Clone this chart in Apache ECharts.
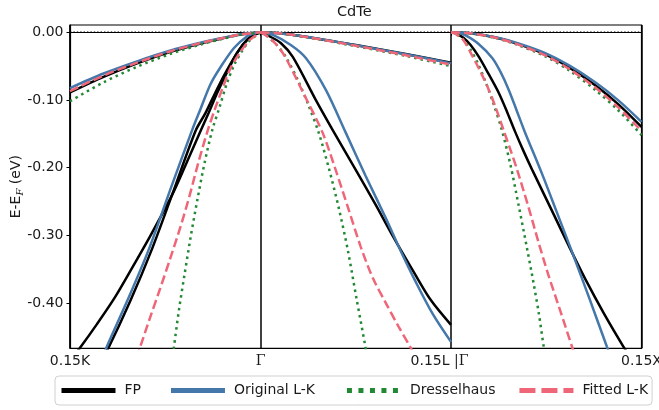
<!DOCTYPE html>
<html><head><meta charset="utf-8">
<script src="https://cdn.jsdelivr.net/npm/echarts@6/dist/echarts.min.js"></script>
<style>html,body{margin:0;padding:0;background:#fff}#c{width:659px;height:410px}</style>
</head><body><div id="c"></div>
<script>
// ---- tick labels ----
const xTickLabels = ['0.15K', 'Γ', '0.15L |Γ', '0.15X'];
const yTicks = [-0.4, -0.3, -0.2, -0.1, 0.0];
const modelNames = ['FP', 'Original L-K', 'Dresselhaus', 'Fitted L-K'];

// ---- band data: [t, E-EF (eV)], t = distance from Γ as fraction of the panel ----
// Γ -> 0.15K panel
const FP_K_flat  = [[0,0],[0.104,-0.0035],[0.209,-0.0095],[0.3,-0.0155],[0.472,-0.029],[0.648,-0.046],[0.824,-0.066],[1,-0.089]];
const LK_K_flat  = [[0,0],[0.104,-0.003],[0.209,-0.009],[0.3,-0.0145],[0.472,-0.027],[0.648,-0.043],[0.824,-0.061],[1,-0.0825]];
const DR_K_flat  = [[0,0],[0.104,-0.0035],[0.209,-0.0105],[0.3,-0.017],[0.472,-0.032],[0.648,-0.051],[0.824,-0.074],[1,-0.102]];
const FIT_K_flat = [[0,0],[0.104,-0.0033],[0.209,-0.0093],[0.3,-0.015],[0.472,-0.028],[0.648,-0.045],[0.824,-0.064],[1,-0.087]];
const FP_K_steep1 = [[0,0],[0.030,-0.0032],[0.0669,-0.0099],[0.1197,-0.0291],[0.1724,-0.0571],[0.2251,-0.0882],[0.2725,-0.1192],[0.3147,-0.1458],[0.3885,-0.1931],[0.4639,-0.2403],[0.5783,-0.3009],[0.6679,-0.3452],[0.7628,-0.391],[0.8577,-0.4309],[0.9473,-0.4663],[1,-0.4855]];
const FP_K_steep2 = [[0,0],[0.030,-0.0032],[0.0669,-0.0106],[0.1197,-0.0291],[0.1724,-0.0542],[0.2251,-0.0823],[0.2884,-0.1192],[0.3411,-0.1458],[0.4623,-0.2388],[0.5693,-0.3201],[0.6831,-0.3969],[0.7991,-0.4668],[0.842,-0.487]];
const LK_K_steep  = [[0,0],[0.0353,-0.0018],[0.0685,-0.0055],[0.1392,-0.0232],[0.2093,-0.0513],[0.262,-0.0764],[0.3147,-0.1133],[0.3585,-0.1443],[0.4702,-0.23],[0.5872,-0.3216],[0.6995,-0.3969],[0.8102,-0.4668],[0.842,-0.49]];
const DR_K_steep  = [[0,0],[0.0195,-0.004],[0.0564,-0.0121],[0.0933,-0.0261],[0.1355,-0.0468],[0.1776,-0.0764],[0.2145,-0.1104],[0.253,-0.1443],[0.2936,-0.1931],[0.3305,-0.2462],[0.3674,-0.3038],[0.3991,-0.3585],[0.428,-0.4102],[0.4555,-0.4668],[0.4676,-0.487]];
const FIT_K_steep = [[0,0],[0.0248,-0.0047],[0.0617,-0.0129],[0.1038,-0.0284],[0.1566,-0.0527],[0.1987,-0.0823],[0.2409,-0.1148],[0.2778,-0.1458],[0.3253,-0.1916],[0.3727,-0.2418],[0.4202,-0.2876],[0.4729,-0.3334],[0.5256,-0.3777],[0.5783,-0.4205],[0.631,-0.4644],[0.652,-0.481]];
// Γ -> 0.15L panel
const FP_L_flat  = [[0,0],[0.1,-0.0015],[0.238,-0.0065],[0.5,-0.019],[0.762,-0.032],[1,-0.045]];
const LK_L_flat  = [[0,0],[0.1,-0.0015],[0.238,-0.0066],[0.5,-0.0192],[0.762,-0.0325],[1,-0.046]];
const DR_L_flat  = [[0,0],[0.1,-0.0016],[0.238,-0.0072],[0.5,-0.0205],[0.762,-0.035],[1,-0.050]];
const FIT_L_flat = [[0,0],[0.1,-0.0016],[0.238,-0.007],[0.5,-0.02],[0.762,-0.034],[1,-0.048]];
const FP_L_steep  = [[0,0],[0.0435,-0.0055],[0.1065,-0.0158],[0.1695,-0.0365],[0.29,-0.1],[0.3814,-0.1458],[0.5,-0.2034],[0.605,-0.2551],[0.694,-0.3009],[0.804,-0.3541],[0.893,-0.3954],[1,-0.4324]];
const LK_L_steep  = [[0,0],[0.0645,-0.004],[0.159,-0.0188],[0.238,-0.038],[0.343,-0.0852],[0.448,-0.1487],[0.552,-0.2123],[0.657,-0.2743],[0.736,-0.3231],[0.815,-0.3689],[0.904,-0.4162],[1,-0.4575]];
const DR_L_steep  = [[0,0],[0.0278,-0.004],[0.0803,-0.0173],[0.1327,-0.0365],[0.1957,-0.0705],[0.2534,-0.1089],[0.3059,-0.1487],[0.3583,-0.2004],[0.4108,-0.2595],[0.458,-0.3216],[0.5052,-0.3954],[0.5488,-0.4619],[0.5577,-0.478]];
const FIT_L_steep = [[0,0],[0.033,-0.0055],[0.0855,-0.0188],[0.1327,-0.038],[0.222,-0.0882],[0.3263,-0.1487],[0.3945,-0.2034],[0.4633,-0.2625],[0.5262,-0.3171],[0.5892,-0.3629],[0.6574,-0.3999],[0.7256,-0.4353],[0.7886,-0.4663],[0.81,-0.478]];
// Γ -> 0.15X panel
const FP_X_flat  = [[0,0],[0.1,-0.0014],[0.234,-0.0079],[0.35,-0.0172],[0.495,-0.0328],[0.62,-0.052],[0.757,-0.0785],[0.88,-0.107],[1,-0.14]];
const LK_X_flat  = [[0,0],[0.1,-0.0013],[0.234,-0.0075],[0.35,-0.0163],[0.495,-0.031],[0.62,-0.049],[0.757,-0.074],[0.88,-0.101],[1,-0.1325]];
const DR_X_flat  = [[0,0],[0.1,-0.0015],[0.234,-0.0085],[0.35,-0.0187],[0.495,-0.0356],[0.62,-0.0564],[0.757,-0.0852],[0.88,-0.116],[1,-0.152]];
const FIT_X_flat = [[0,0],[0.1,-0.0015],[0.234,-0.0082],[0.35,-0.018],[0.495,-0.0342],[0.62,-0.0542],[0.757,-0.0818],[0.88,-0.1115],[1,-0.146]];
const FP_X_steep  = [[0,0],[0.0298,-0.0025],[0.0664,-0.0084],[0.103,-0.0188],[0.1464,-0.0365],[0.1972,-0.0616],[0.251,-0.0897],[0.2966,-0.1192],[0.3358,-0.1465],[0.3802,-0.1753],[0.4289,-0.2049],[0.5303,-0.2639],[0.626,-0.3201],[0.7045,-0.3644],[0.8039,-0.4161],[0.9048,-0.4644],[0.9503,-0.4841]];
const LK_X_steep  = [[0,0],[0.0403,-0.001],[0.0769,-0.0047],[0.1449,-0.0173],[0.2165,-0.038],[0.2599,-0.0586],[0.3033,-0.0852],[0.3436,-0.1148],[0.3854,-0.1458],[0.478,-0.2093],[0.5528,-0.264],[0.6313,-0.3216],[0.7254,-0.3925],[0.818,-0.4644],[0.8457,-0.4855]];
const DR_X_steep  = [[0,0],[0.0246,-0.0025],[0.0612,-0.0099],[0.103,-0.0261],[0.1396,-0.0453],[0.1815,-0.0734],[0.2233,-0.1059],[0.2652,-0.1428],[0.3122,-0.196],[0.3556,-0.2566],[0.3996,-0.3201],[0.4341,-0.3718],[0.4613,-0.4161],[0.4864,-0.4644],[0.4979,-0.4841]];
const FIT_X_steep = [[0,0],[0.0246,-0.0025],[0.0612,-0.0099],[0.1119,-0.035],[0.1553,-0.0586],[0.1987,-0.0852],[0.239,-0.1148],[0.2772,-0.1458],[0.3122,-0.1739],[0.3473,-0.2034],[0.4079,-0.2595],[0.4603,-0.3112],[0.511,-0.3585],[0.5737,-0.4117],[0.6349,-0.4644],[0.6574,-0.4836]];

// ---- styling per model ----
const NB = '\u00a0';
const modelStyles = {
  'FP':           {color: '#000000', dash: 'solid',  legendDash: 'solid',  spacer: 's1', nb: 4},
  'Original L-K': {color: '#4477AA', dash: 'solid',  legendDash: 'solid',  spacer: 's2', nb: 4},
  'Dresselhaus':  {color: '#228833', dash: [2.5, 4], legendDash: [5, 6.5], spacer: 's3', nb: 3},
  'Fitted L-K':   {color: '#EE6677', dash: [9, 4],   legendDash: [16, 6],  spacer: '',   nb: 0}
};
const modelBands = {
  'FP':           {K: [FP_K_flat, FP_K_steep1, FP_K_steep2], L: [FP_L_flat, FP_L_steep], X: [FP_X_flat, FP_X_steep]},
  'Original L-K': {K: [LK_K_flat, LK_K_steep], L: [LK_L_flat, LK_L_steep], X: [LK_X_flat, LK_X_steep]},
  'Dresselhaus':  {K: [DR_K_flat, DR_K_steep], L: [DR_L_flat, DR_L_steep], X: [DR_X_flat, DR_X_steep]},
  'Fitted L-K':   {K: [FIT_K_flat, FIT_K_steep], L: [FIT_L_flat, FIT_L_steep], X: [FIT_X_flat, FIT_X_steep]}
};
const panelMap = {K: t => 1 - t, L: t => 1 + t, X: t => 2 + t};

const series = [{
  type: 'line', name: 'zero', data: [[0, 0], [3, 0]], symbol: 'none', silent: true, z: 1,
  lineStyle: {color: '#000', width: 1.4, type: [1.4, 2]}
}];
modelNames.forEach(name => {
  const st = modelStyles[name];
  ['K', 'L', 'X'].forEach(p => {
    modelBands[name][p].forEach(band => {
      series.push({
        type: 'line', name: name, symbol: 'none', smooth: 0.3, clip: true, z: 2,
        data: band.map(([t, e]) => [panelMap[p](t), e]).sort((a, b) => a[0] - b[0]),
        lineStyle: {color: st.color, width: 2.5, type: st.dash}, itemStyle: {color: st.color}
      });
    });
  });
});

const chart = echarts.init(document.getElementById('c'));
chart.setOption({
  animation: false,
  backgroundColor: '#fff',
  textStyle: {fontFamily: 'DejaVu Sans'},
  title: {text: 'CdTe', left: 337, top: 5, padding: 0,
    textStyle: {fontFamily: 'DejaVu Sans', fontSize: 14.5, fontWeight: 'normal', color: '#1a1a1a'}},
  grid: {left: 70, right: 17.5, top: 25, bottom: 61.7, show: true, borderColor: '#000', borderWidth: 1.2,
    containLabel: false, outerBoundsMode: 'none'},
  xAxis: {
    type: 'value', min: 0, max: 3, interval: 1,
    axisLine: {show: true, lineStyle: {color: '#000', width: 1.2}},
    axisTick: {show: true, length: 3.5, lineStyle: {color: '#000', width: 1}},
    splitLine: {show: true, lineStyle: {color: '#000', width: 1.5}},
    axisLabel: {
      margin: 6, color: '#1a1a1a', fontSize: 14, fontFamily: 'DejaVu Sans',
      formatter: v => {
        const lab = xTickLabels[Math.round(v)];
        if (lab === 'Γ') return '{g|Γ}';
        if (lab.indexOf('|') >= 0) return lab.split('|')[0] + '{g||' + lab.split('|')[1] + '}{sp|}';
        return lab;
      },
      rich: {g: {fontFamily: 'DejaVu Serif', fontSize: 14, color: '#1a1a1a'}, sp: {width: 23}}
    }
  },
  yAxis: {
    type: 'value', min: -0.467, max: 0.0107,
    name: '{a|E-E}{b|F}{a| (eV)}', nameLocation: 'middle', nameGap: 45, nameMoveOverlap: false,
    nameTextStyle: {color: '#1a1a1a', rich: {
      a: {fontFamily: 'DejaVu Sans', fontSize: 14, color: '#1a1a1a', lineHeight: 18},
      b: {fontFamily: 'DejaVu Serif', fontStyle: 'italic', fontSize: 10, color: '#1a1a1a', verticalAlign: 'bottom', lineHeight: 12, padding: [6, 0, 0, 0]}
    }},
    axisLine: {show: true, lineStyle: {color: '#000', width: 1.2}},
    axisTick: {show: true, length: 3.5, customValues: yTicks, lineStyle: {color: '#000', width: 1}},
    splitLine: {show: false},
    axisLabel: {margin: 6.5, color: '#1a1a1a', fontSize: 14, fontFamily: 'DejaVu Sans', customValues: yTicks,
      formatter: v => v.toFixed(2)}
  },
  legend: {
    left: 55, top: 376, width: 640, padding: [7, 4], itemGap: 10, itemWidth: 54, itemHeight: 14,
    backgroundColor: '#fff', borderColor: '#d0d0d0', borderWidth: 1, borderRadius: 4,
    formatter: n => {
      const st = modelStyles[n];
      return st.spacer ? '{t|' + n + '}{' + st.spacer + '|' + NB.repeat(st.nb) + '}' : '{t|' + n + '}';
    },
    textStyle: {fontFamily: 'DejaVu Sans', fontSize: 14, color: '#1a1a1a', padding: [0, 0, 0, 4],
      rich: {t: {fontFamily: 'DejaVu Sans', fontSize: 14, color: '#1a1a1a'},
             s1: {fontFamily: 'DejaVu Sans', fontSize: 13.75}, s2: {fontFamily: 'DejaVu Sans', fontSize: 15.3},
             s3: {fontFamily: 'DejaVu Sans', fontSize: 12}}},
    data: modelNames.map(n => ({name: n, itemStyle: {opacity: 0},
      lineStyle: {width: 5, type: modelStyles[n].legendDash}}))
  },
  series: series
});
</script></body></html>
